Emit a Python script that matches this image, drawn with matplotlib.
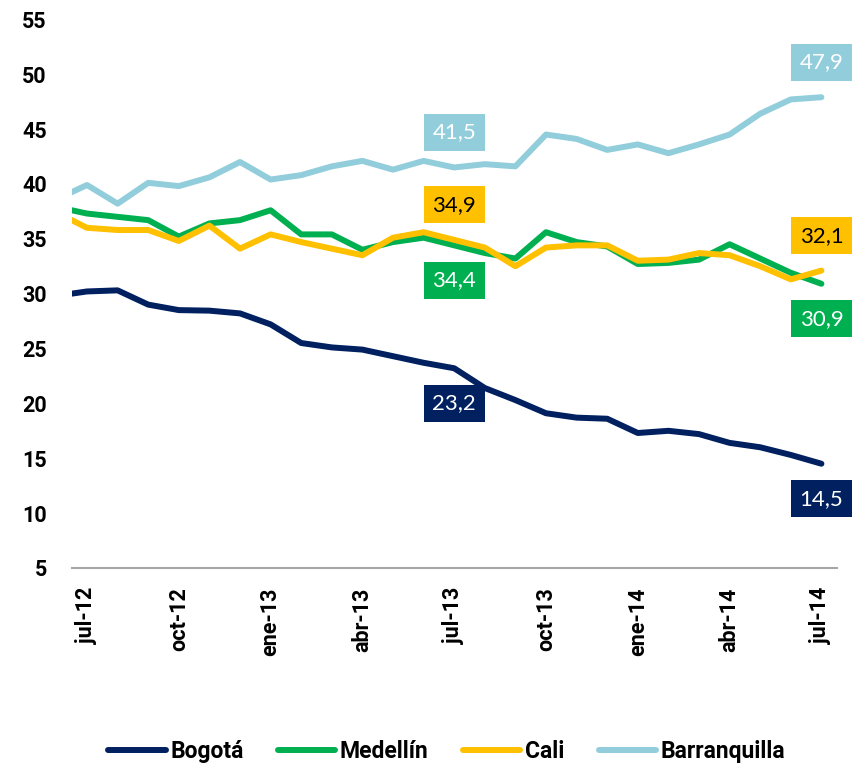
import matplotlib
matplotlib.use("Agg")
import matplotlib.pyplot as plt
import numpy as np

plt.rcParams['font.family'] = ['Roboto', 'DejaVu Sans']
plt.rcParams['font.weight'] = 'bold'

# Monthly data, jun-12 .. jul-14 (jun-12 lies just left of the visible axis)
months = ['jun-12', 'jul-12', 'ago-12', 'sep-12', 'oct-12', 'nov-12', 'dic-12',
          'ene-13', 'feb-13', 'mar-13', 'abr-13', 'may-13', 'jun-13', 'jul-13',
          'ago-13', 'sep-13', 'oct-13', 'nov-13', 'dic-13', 'ene-14', 'feb-14',
          'mar-14', 'abr-14', 'may-14', 'jun-14', 'jul-14']
tick_labels = ['jul-12', 'oct-12', 'ene-13', 'abr-13', 'jul-13',
               'oct-13', 'ene-14', 'abr-14', 'jul-14']

bogota = [29.8, 30.2, 30.3, 29.0, 28.5, 28.45, 28.2, 27.2, 25.5, 25.1, 24.9, 24.3, 23.7,
          23.2, 21.4, 20.3, 19.1, 18.7, 18.6, 17.3, 17.5, 17.2, 16.4, 16.0, 15.3, 14.5]
medellin = [37.9, 37.3, 37.0, 36.7, 35.2, 36.4, 36.7, 37.6, 35.4, 35.4, 34.0, 34.7, 35.1,
            34.4, 33.7, 33.2, 35.6, 34.7, 34.3, 32.7, 32.8, 33.1, 34.5, 33.2, 31.9, 30.9]
cali = [37.4, 36.0, 35.8, 35.8, 34.8, 36.2, 34.1, 35.4, 34.7, 34.1, 33.5, 35.1, 35.6,
        34.9, 34.2, 32.5, 34.2, 34.4, 34.4, 33.0, 33.1, 33.7, 33.5, 32.5, 31.3, 32.1]
barranquilla = [38.6, 39.9, 38.2, 40.1, 39.8, 40.6, 42.0, 40.4, 40.8, 41.6, 42.1, 41.3, 42.1,
                41.5, 41.8, 41.6, 44.5, 44.1, 43.1, 43.6, 42.8, 43.6, 44.5, 46.4, 47.7, 47.9]

series_names = ['Bogotá', 'Medellín', 'Cali', 'Barranquilla']
series_values = [bogota, medellin, cali, barranquilla]
colors = ['#002060', '#00B050', '#FFC000', '#92CDDC']
label_text_colors = ['white', 'white', 'black', 'white']
label_dirs = [-1, -1, 1, 1]          # below / above the point
label_months = ['jul-13', 'jul-14']

fig = plt.figure(figsize=(8.64, 7.67), dpi=100)
ax = fig.add_axes([0.083, 0.2595, 0.8854, 0.7153])

x = np.arange(len(months)) - 1  # jul-12 -> 0

for name, vals, c in zip(series_names, series_values, colors):
    ax.plot(x, vals, color=c, lw=4.3, label=name,
            solid_capstyle='round', solid_joinstyle='round')

for vals, c, tc, d in zip(series_values, colors, label_text_colors, label_dirs):
    for m in label_months:
        i = months.index(m)
        txt = f"{vals[i]:.1f}".replace('.', ',')
        ax.annotate(txt, xy=(x[i], vals[i]), xytext=(0, 35 * d),
                    textcoords='offset pixels', ha='center', va='center',
                    fontsize=16, fontweight='normal', family=['Lato', 'DejaVu Sans'],
                    color=tc, annotation_clip=False,
                    bbox=dict(boxstyle='square,pad=0.38', fc=c, ec='none'))

ax.set_xlim(-0.5, 24.5)
ax.set_ylim(5, 55)
ax.set_yticks(np.arange(5, 56, 5))
ax.set_xticks([months.index(t) - 1 for t in tick_labels])
ax.set_xticklabels(tick_labels, rotation=90, fontweight='bold', fontsize=15.5)
ax.tick_params(axis='x', length=0, pad=14)
ax.tick_params(axis='y', length=0, pad=18, labelsize=15.5)
for lab in ax.get_yticklabels():
    lab.set_fontweight('bold')

for s in ['top', 'right', 'left']:
    ax.spines[s].set_visible(False)
ax.spines['bottom'].set_color('#A6A6A6')
ax.spines['bottom'].set_linewidth(1.5)

fig.legend(loc='center', bbox_to_anchor=(0.517, 0.0196), ncol=4, frameon=False,
           prop={'weight': 'bold', 'size': 16.5}, handlelength=2.5,
           handletextpad=0.2, columnspacing=1.5)

fig.savefig('out.png', dpi=100)
